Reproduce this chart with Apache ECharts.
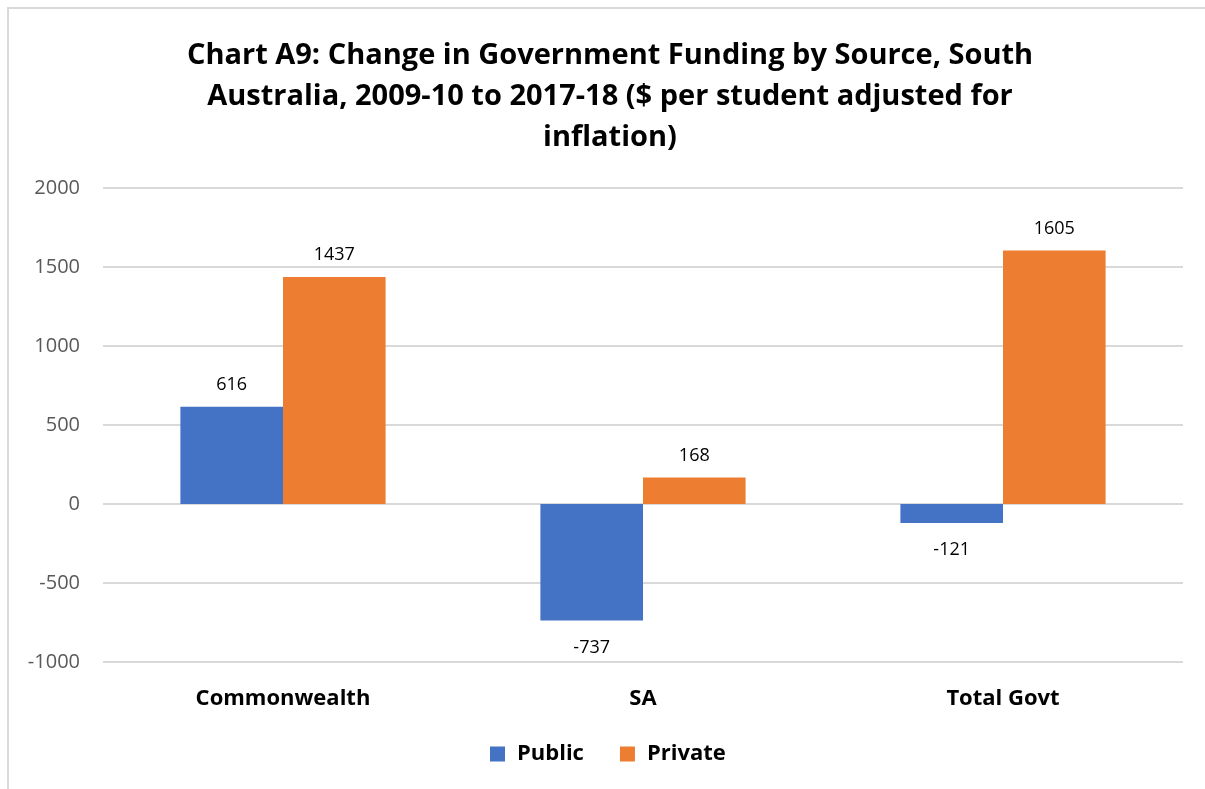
<!DOCTYPE html>
<html>
<head>
<meta charset="utf-8">
<script src="https://cdn.jsdelivr.net/npm/echarts@6/dist/echarts.min.js"></script>
<style>
  html, body { margin: 0; padding: 0; background: #fff; }
  #frame { position: absolute; left: 7px; top: 7px; width: 1198px; height: 782px;
           border-left: 2px solid #d9d9d9; border-top: 2px solid #d9d9d9; }
  #chart { position: absolute; left: 0; top: 0; width: 1205px; height: 789px; }
</style>
</head>
<body>
<div id="frame"></div>
<div id="chart"></div>
<script>
// Funding change by source, $ per student (inflation adjusted)
const categories = ['Commonwealth', 'SA', 'Total Govt'];
const publicValues = [616, -737, -121];
const privateValues = [1437, 168, 1605];
const seriesNames = ['Public', 'Private'];
const titleText = 'Chart A9: Change in Government Funding by Source, South\nAustralia, 2009-10 to 2017-18 ($ per student adjusted for\ninflation)';

const FONT = '"Open Sans", Lato, sans-serif';

function withLabels(values) {
  return values.map(v => ({
    value: v,
    label: { position: v < 0 ? 'bottom' : 'top', distance: v < 0 ? 18 : 13 }
  }));
}

const chart = echarts.init(document.getElementById('chart'), null, { renderer: 'canvas' });
chart.setOption({
  animation: false,
  color: ['#4472C4', '#ED7D31'],
  title: {
    text: titleText,
    left: 605,
    textAlign: 'center',
    top: 30,
    textStyle: { fontFamily: FONT, fontSize: 29, fontWeight: 'bold', color: '#000', lineHeight: 41 }
  },
  legend: {
    bottom: 19,
    left: 485,
    itemWidth: 15,
    itemHeight: 15,
    itemGap: 36,
    icon: 'rect',
    textStyle: { fontFamily: FONT, fontSize: 22, fontWeight: 'bold', color: '#000', padding: [0, 0, 0, 7] },
    data: seriesNames
  },
  grid: { left: 103, right: 22, top: 188, bottom: 127 },
  xAxis: {
    type: 'category',
    data: categories,
    axisLine: { show: false },
    axisTick: { show: false },
    axisLabel: { fontFamily: FONT, fontSize: 22, fontWeight: 'bold', color: '#000', margin: 26 }
  },
  yAxis: {
    type: 'value',
    min: -1000,
    max: 2000,
    interval: 500,
    axisLine: { show: false },
    axisTick: { show: false },
    splitLine: { lineStyle: { color: '#d9d9d9', width: 2 } },
    axisLabel: { fontFamily: FONT, fontSize: 20, color: '#595959', margin: 23, formatter: v => String(v) }
  },
  series: [
    {
      name: seriesNames[0], type: 'bar', barGap: '0%', barCategoryGap: '43%',
      data: withLabels(publicValues),
      label: { show: true, fontFamily: FONT, fontSize: 18, color: '#000' }
    },
    {
      name: seriesNames[1], type: 'bar', barGap: '0%', barCategoryGap: '43%',
      data: withLabels(privateValues),
      label: { show: true, fontFamily: FONT, fontSize: 18, color: '#000' }
    }
  ]
});
</script>
</body>
</html>
